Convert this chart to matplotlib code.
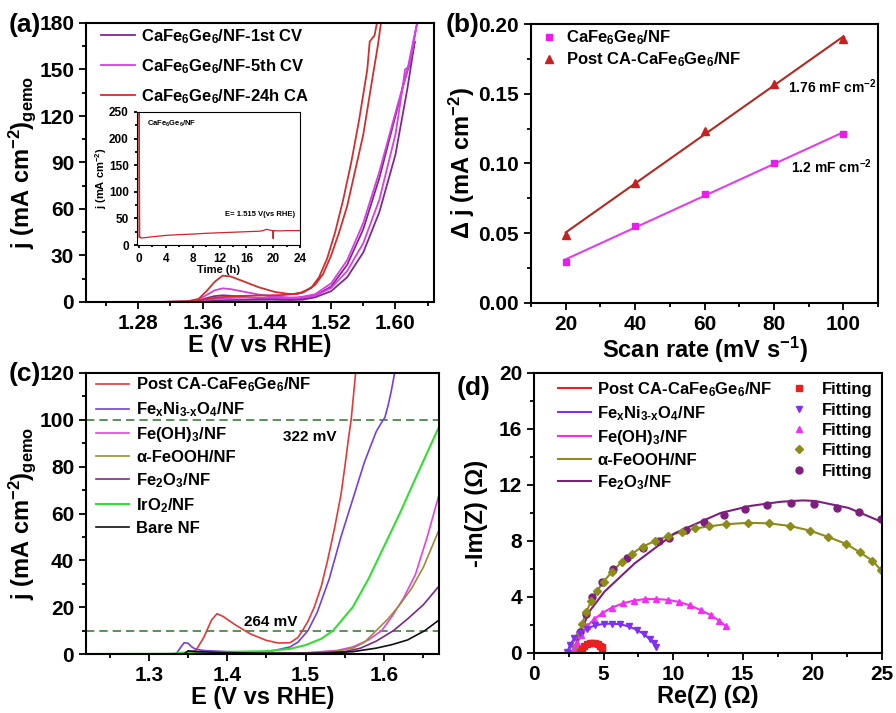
import matplotlib
matplotlib.use('Agg')
import matplotlib.pyplot as plt
import numpy as np
from matplotlib.ticker import MultipleLocator, FormatStrFormatter

plt.rcParams['font.family'] = ['Liberation Sans', 'DejaVu Sans']
plt.rcParams['font.weight'] = 'bold'
plt.rcParams['axes.labelweight'] = 'bold'
plt.rcParams['mathtext.default'] = 'regular'

# ---- (a) CV curves, forward + backward scan
cv1_E = [1.30, 1.34, 1.355, 1.365, 1.375, 1.385, 1.395, 1.41, 1.43, 1.45, 1.47, 1.485, 1.50, 1.52, 1.54, 1.56, 1.58, 1.60, 1.615, 1.624,
         1.62, 1.61, 1.60, 1.58, 1.56, 1.54, 1.52, 1.50, 1.48, 1.45, 1.40, 1.37, 1.35, 1.30]
cv1_j = [0, 0.1, 0.8, 2.5, 3.8, 4.3, 4.0, 3.3, 2.5, 1.8, 1.3, 1.5, 3, 7, 16, 32, 58, 95, 138, 168,
         158, 140, 120, 80, 47, 24, 10, 4, 2, 1.5, 1.3, 1.0, 0.3, 0]
cv5_E = [1.30, 1.34, 1.355, 1.365, 1.375, 1.385, 1.395, 1.41, 1.43, 1.45, 1.47, 1.485, 1.50, 1.52, 1.54, 1.56, 1.58, 1.60, 1.608, 1.612, 1.617, 1.622, 1.627,
         1.622, 1.615, 1.60, 1.58, 1.56, 1.54, 1.52, 1.50, 1.48, 1.45, 1.42, 1.40, 1.38, 1.36, 1.345, 1.30]
cv5_j = [0, 0.2, 1.5, 4.5, 7.5, 8.8, 8.3, 6.8, 4.8, 3.4, 2.6, 2.8, 4, 9, 20, 38, 66, 108, 135, 150, 152, 165, 180,
         168, 150, 122, 84, 51, 27, 12, 5, 3, 2.8, 2.8, 2.7, 2.2, 1.0, 0.2, 0]
ca_E = [1.30, 1.34, 1.355, 1.365, 1.375, 1.385, 1.395, 1.41, 1.43, 1.45, 1.47, 1.485, 1.50, 1.51, 1.52, 1.53, 1.54, 1.55, 1.56, 1.57, 1.578, 1.582,
        1.577, 1.574, 1.568, 1.565, 1.555, 1.545, 1.535, 1.525, 1.515, 1.505, 1.495, 1.48, 1.46, 1.43, 1.40, 1.38, 1.36, 1.345, 1.30]
ca_j = [0, 0.3, 2, 7, 13, 17, 16.5, 13.5, 9.5, 6.5, 5, 6, 11, 18, 30, 45, 62, 85, 108, 140, 165, 180,
        180, 172, 168, 150, 118, 90, 66, 45, 28, 16, 9, 5.5, 4.5, 4.2, 3.8, 3, 1.5, 0.3, 0]

# inset: chronoamperometry at 1.515 V
t_h = [0, 0.03, 0.1, 0.3, 1, 2, 4, 6, 8, 10, 12, 14, 16, 18, 18.5, 19, 19.5, 19.95, 20.0, 20.05, 21, 22, 24]
t_j = [14, 250, 16, 13, 14, 15.5, 18, 19.5, 20.5, 22, 23, 24, 25, 26, 27, 29.5, 28, 27, 12, 27, 26.5, 27, 27]

# ---- (b) double layer capacitance
scan = [20, 40, 60, 80, 100]
dj_pristine = [0.0296, 0.0554, 0.0781, 0.1001, 0.1211]
dj_post = [0.0487, 0.0862, 0.1233, 0.1568, 0.189]

# ---- (c) LSV
post_E = [1.22, 1.34, 1.35, 1.36, 1.37, 1.38, 1.387, 1.395, 1.41, 1.43, 1.45, 1.465, 1.48, 1.49, 1.496, 1.503, 1.511, 1.52, 1.528, 1.537, 1.545, 1.55, 1.555, 1.558, 1.564]
post_j = [0, 0.1, 0.4, 1.5, 7, 14.5, 17.2, 16, 12.5, 8.5, 5.8, 4.7, 4.8, 7, 10, 14, 20, 29, 40, 54, 68, 80, 93, 100, 121]
feni_E = [1.22, 1.335, 1.34, 1.345, 1.35, 1.355, 1.36, 1.37, 1.40, 1.44, 1.46, 1.48, 1.49, 1.503, 1.515, 1.53, 1.545, 1.56, 1.575, 1.59, 1.597, 1.601, 1.605, 1.609, 1.614]
feni_j = [0, 0.1, 2.5, 4.8, 4.6, 3, 2, 1.5, 1, 0.8, 1.5, 3, 5, 10, 18, 32, 50, 66, 82, 95, 99, 101, 106, 112, 121]
feoh_E = [1.22, 1.345, 1.35, 1.36, 1.40, 1.45, 1.50, 1.54, 1.56, 1.58, 1.597, 1.61, 1.625, 1.64, 1.655, 1.67]
feoh_j = [0, 0, 1.0, 0.8, 0.5, 0.4, 0.5, 1.5, 3, 6, 10, 16, 24, 34, 50, 68]
feooh_E = [1.22, 1.345, 1.35, 1.36, 1.40, 1.45, 1.50, 1.54, 1.56, 1.575, 1.59, 1.605, 1.62, 1.635, 1.65, 1.66, 1.67]
feooh_j = [0, 0, 1.0, 0.8, 0.5, 0.3, 0.4, 1.2, 2.5, 5, 10, 15, 21, 28, 37, 45, 53]
fe2o3_E = [1.22, 1.345, 1.35, 1.36, 1.40, 1.45, 1.50, 1.55, 1.57, 1.59, 1.612, 1.63, 1.65, 1.67]
fe2o3_j = [0, 0, 1.2, 1.0, 0.6, 0.3, 0.3, 1, 2.5, 5.5, 10, 15, 21, 29]
iro2_E = [1.22, 1.33, 1.345, 1.35, 1.40, 1.45, 1.48, 1.50, 1.52, 1.535, 1.56, 1.58, 1.60, 1.62, 1.64, 1.655, 1.67]
iro2_j = [0, 0.1, 0.6, 0.8, 0.9, 1.2, 2.2, 3.8, 6.5, 10, 20, 32, 46, 60, 75, 86, 97]
nf_E = [1.22, 1.345, 1.35, 1.36, 1.40, 1.45, 1.52, 1.56, 1.59, 1.61, 1.63, 1.652, 1.67]
nf_j = [0, 0, 1.3, 1.0, 0.6, 0.3, 0.3, 1, 2.5, 4, 6, 10, 14.5]

# ---- (d) Nyquist
red_x = [3.3, 3.45, 3.6, 3.8, 4.0, 4.2, 4.4, 4.6, 4.75, 4.85, 4.9]
red_y = [0.05, 0.3, 0.5, 0.62, 0.7, 0.72, 0.7, 0.62, 0.52, 0.4, 0.25]
feni_x = [2.4, 2.6, 2.9, 3.3, 3.8, 4.4, 5.0, 5.6, 6.2, 6.8, 7.4, 7.9, 8.3, 8.6, 8.75]
feni_y = [0.1, 0.6, 1.05, 1.45, 1.75, 1.97, 2.08, 2.1, 2.05, 1.9, 1.65, 1.35, 1.0, 0.7, 0.45]
feoh_x = [2.9, 3.1, 3.4, 3.8, 4.3, 4.9, 5.6, 6.4, 7.2, 8.0, 8.8, 9.6, 10.4, 11.2, 12.0, 12.7, 13.3, 13.8]
feoh_y = [0.2, 0.7, 1.3, 1.9, 2.4, 2.85, 3.25, 3.55, 3.75, 3.85, 3.85, 3.8, 3.65, 3.4, 3.05, 2.7, 2.3, 1.9]
feooh_x = [2.8, 3.0, 3.2, 3.45, 3.75, 4.1, 4.5, 5.0, 5.6, 6.3, 7.05, 7.8, 8.7, 9.6, 10.6, 11.6, 12.6, 13.8, 15.4, 16.9, 18.4, 19.8, 21.1, 22.4, 23.4, 24.3, 24.95]
feooh_y = [0.0, 0.5, 1.3, 2.1, 2.9, 3.7, 4.4, 5.1, 5.8, 6.5, 7.1, 7.6, 8.0, 8.35, 8.65, 8.9, 9.05, 9.2, 9.3, 9.26, 9.07, 8.75, 8.3, 7.8, 7.2, 6.6, 5.9]
fe2o3_x = [2.8, 3.0, 3.3, 3.7, 4.2, 4.9, 5.7, 6.7, 7.8, 9.0, 9.7, 10.9, 12.2, 13.65, 15.14, 16.76, 18.44, 20.11, 21.74, 23.35, 24.9]
fe2o3_y = [0.0, 0.4, 1.5, 2.8, 4.0, 5.1, 6.0, 6.8, 7.5, 8.0, 8.2, 8.8, 9.36, 9.86, 10.26, 10.6, 10.74, 10.62, 10.38, 10.05, 9.55]
fe2o3_lx = [2.8, 3.3, 4.0, 5.08, 7.23, 10.1, 13.4, 15.5, 17.7, 19.3, 20.2, 22.6, 24.9]
fe2o3_ly = [0.0, 1.4, 3.0, 4.4, 6.4, 8.55, 10.0, 10.5, 10.8, 10.9, 10.86, 10.36, 9.4]


def box(l, t, r, b):
    return [l / 896, 1 - b / 713, (r - l) / 896, (b - t) / 713]


def style(ax, size=15, major=5, minor=3):
    for s in ax.spines.values():
        s.set_linewidth(1.5)
    ax.tick_params(which='both', direction='out', top=False, right=False, width=1.3, labelsize=size)
    ax.tick_params(which='major', length=major)
    ax.tick_params(which='minor', length=minor)
    for lab in ax.get_xticklabels() + ax.get_yticklabels():
        lab.set_fontweight('bold')


fig = plt.figure(figsize=(8.96, 7.13), dpi=100)
LS = 17

# (a)
ax = fig.add_axes(box(86, 23, 434, 302))
ax.plot(cv1_E, cv1_j, color='#7E2A8C', lw=1.3, label='CaFe$_6$Ge$_6$/NF-1st CV')
ax.plot(cv5_E, cv5_j, color='#D63FE0', lw=1.3, label='CaFe$_6$Ge$_6$/NF-5th CV')
ax.plot(ca_E, ca_j, color='#CC3030', lw=1.3, label='CaFe$_6$Ge$_6$/NF-24h CA')
ax.set_xlim(1.215, 1.648)
ax.set_ylim(0, 180)
ax.set_xticks([1.28, 1.36, 1.44, 1.52, 1.60])
ax.xaxis.set_minor_locator(MultipleLocator(0.04))
ax.yaxis.set_major_locator(MultipleLocator(30))
ax.yaxis.set_minor_locator(MultipleLocator(15))
ax.set_xlabel('E (V vs RHE)', fontsize=LS, labelpad=1)
ax.set_ylabel('j (mA cm$^{-2}$)$_{gemo}$', fontsize=LS, labelpad=1)
ax.legend(loc='upper left', frameon=False, fontsize=12, handlelength=2.0, handletextpad=0.4,
          borderaxespad=0.1, labelspacing=0.68, bbox_to_anchor=(0.02, 1.015))
style(ax)
fig.text(0.010, 0.955, '(a)', fontsize=19, fontweight='bold')

ins = fig.add_axes(box(137, 112, 300, 245))
ins.plot(t_h, t_j, color='#C8282A', lw=0.9)
ins.set_xlim(-0.3, 24)
ins.set_ylim(0, 250)
ins.xaxis.set_major_locator(MultipleLocator(4))
ins.xaxis.set_minor_locator(MultipleLocator(2))
ins.yaxis.set_major_locator(MultipleLocator(50))
ins.yaxis.set_minor_locator(MultipleLocator(25))
ins.set_xlabel('Time (h)', fontsize=8, labelpad=0)
ins.set_ylabel('j (mA cm$^{-2}$)', fontsize=8, labelpad=0)
style(ins, size=8.5, major=2.5, minor=1.5)
for s in ins.spines.values():
    s.set_linewidth(0.8)
ins.text(0.06, 0.95, 'CaFe$_6$Ge$_6$/NF', transform=ins.transAxes, fontsize=5.5, va='top')
ins.text(0.97, 0.22, 'E= 1.515 V(vs RHE)', transform=ins.transAxes, fontsize=5.5, ha='right')

# (b)
ax = fig.add_axes(box(531, 24, 878, 303))
k1 = np.polyfit(scan, dj_pristine, 1)
k2 = np.polyfit(scan, dj_post, 1)
ax.plot(scan, np.polyval(k1, scan), color='#E040E8', lw=1.5)
ax.plot(scan, np.polyval(k2, scan), color='#B02A22', lw=1.5)
ax.plot(scan, dj_pristine, 's', color='#E81EE8', ms=5, label='CaFe$_6$Ge$_6$/NF')
ax.plot(scan, dj_post, '^', color='#C82020', ms=6, label='Post CA-CaFe$_6$Ge$_6$/NF')
ax.set_xlim(10, 110)
ax.set_ylim(0, 0.2)
ax.xaxis.set_major_locator(MultipleLocator(20))
ax.xaxis.set_minor_locator(MultipleLocator(10))
ax.yaxis.set_major_locator(MultipleLocator(0.05))
ax.yaxis.set_minor_locator(MultipleLocator(0.025))
ax.yaxis.set_major_formatter(FormatStrFormatter('%.2f'))
ax.set_xlabel('Scan rate (mV s$^{-1}$)', fontsize=LS, labelpad=1)
ax.set_ylabel('Δ j (mA cm$^{-2}$)', fontsize=LS, labelpad=1)
ax.text(84, 0.155, '1.76 mF cm$^{-2}$', fontsize=10, va='center')
ax.text(85, 0.0975, '1.2 mF cm$^{-2}$', fontsize=10, va='center')
ax.legend(loc='upper left', frameon=False, fontsize=12, handlelength=1.0, handletextpad=0.5,
          borderaxespad=0.2, labelspacing=0.2, bbox_to_anchor=(0.0, 1.02))
style(ax)
fig.text(0.497, 0.955, '(b)', fontsize=19, fontweight='bold')

# (c)
ax = fig.add_axes(box(86, 373, 439, 654))
ax.axhline(100, color='#3E7E3E', ls=(0, (5, 3)), lw=1.2)
ax.axhline(10, color='#3E7E3E', ls=(0, (5, 3)), lw=1.2)
ax.plot(post_E, post_j, color='#E03A3A', lw=1.2, label='Post CA-CaFe$_6$Ge$_6$/NF')
ax.plot(feni_E, feni_j, color='#7440D8', lw=1.2, label='Fe$_x$Ni$_{3\u2010x}$O$_4$/NF')
ax.plot(feoh_E, feoh_j, color='#E044E0', lw=1.2, label='Fe(OH)$_3$/NF')
ax.plot(feooh_E, feooh_j, color='#A08A3A', lw=1.2, label='α-FeOOH/NF')
ax.plot(fe2o3_E, fe2o3_j, color='#7A2A8A', lw=1.2, label='Fe$_2$O$_3$/NF')
ax.plot(iro2_E, iro2_j, color='#33DD33', lw=1.5, label='IrO$_2$/NF')
ax.plot(nf_E, nf_j, color='#111111', lw=1.2, label='Bare NF')
ax.set_xlim(1.22, 1.67)
ax.set_ylim(0, 120)
ax.xaxis.set_major_locator(MultipleLocator(0.1))
ax.xaxis.set_minor_locator(MultipleLocator(0.05))
ax.yaxis.set_major_locator(MultipleLocator(20))
ax.yaxis.set_minor_locator(MultipleLocator(10))
ax.set_xlabel('E (V vs RHE)', fontsize=LS, labelpad=1)
ax.set_ylabel('j (mA cm$^{-2}$)$_{gemo}$', fontsize=LS, labelpad=1)
ax.text(1.505, 92.5, '322 mV', fontsize=11, ha='center', va='center')
ax.text(1.456, 13.8, '264 mV', fontsize=11, ha='center', va='center')
ax.legend(loc='upper left', frameon=False, fontsize=12, handlelength=2.0, handletextpad=0.4,
          borderaxespad=0.1, labelspacing=0.36, bbox_to_anchor=(0.005, 1.02))
style(ax)
fig.text(0.010, 0.466, '(c)', fontsize=19, fontweight='bold')

# (d)
ax = fig.add_axes(box(534, 373, 882, 653))
l1, = ax.plot(red_x, red_y, color='#E82020', lw=1.5)
l2, = ax.plot(feni_x, feni_y, color='#7F30F0', lw=1.5)
l3, = ax.plot(feoh_x, feoh_y, color='#F030F0', lw=1.5)
l4, = ax.plot(feooh_x, feooh_y, color='#8C8C1C', lw=1.5)
l5, = ax.plot(fe2o3_lx, fe2o3_ly, color='#7D1F7D', lw=1.5)
m5, = ax.plot(fe2o3_x, fe2o3_y, 'o', color='#7D1F7D', ms=5, ls='none')
m4, = ax.plot(feooh_x, feooh_y, 'D', color='#8C8C1C', ms=4.5, ls='none')
m3, = ax.plot(feoh_x, feoh_y, '^', color='#F030F0', ms=5, ls='none')
m2, = ax.plot(feni_x, feni_y, 'v', color='#7F30F0', ms=5, ls='none')
m1, = ax.plot(red_x, red_y, 's', color='#E82020', ms=4, ls='none')
ax.set_xlim(0, 25)
ax.set_ylim(0, 20)
ax.xaxis.set_major_locator(MultipleLocator(5))
ax.xaxis.set_minor_locator(MultipleLocator(2.5))
ax.yaxis.set_major_locator(MultipleLocator(4))
ax.yaxis.set_minor_locator(MultipleLocator(2))
ax.set_xlabel('Re(Z) (Ω)', fontsize=LS, labelpad=1)
ax.set_ylabel('-Im(Z) (Ω)', fontsize=LS, labelpad=8)
labels = ['Post CA-CaFe$_6$Ge$_6$/NF', 'Fe$_x$Ni$_{3\u2010x}$O$_4$/NF', 'Fe(OH)$_3$/NF', 'α-FeOOH/NF', 'Fe$_2$O$_3$/NF']
ax.legend([l1, l2, l3, l4, l5, m1, m2, m3, m4, m5], labels + ['Fitting'] * 5, ncol=2,
          loc='upper left', frameon=False, fontsize=12, handlelength=2.0, handletextpad=0.35,
          borderaxespad=0.2, labelspacing=0.32, columnspacing=0.6, bbox_to_anchor=(0.04, 1.01))
style(ax)
fig.text(0.510, 0.446, '(d)', fontsize=19, fontweight='bold')

fig.savefig('out.png', dpi=100)
